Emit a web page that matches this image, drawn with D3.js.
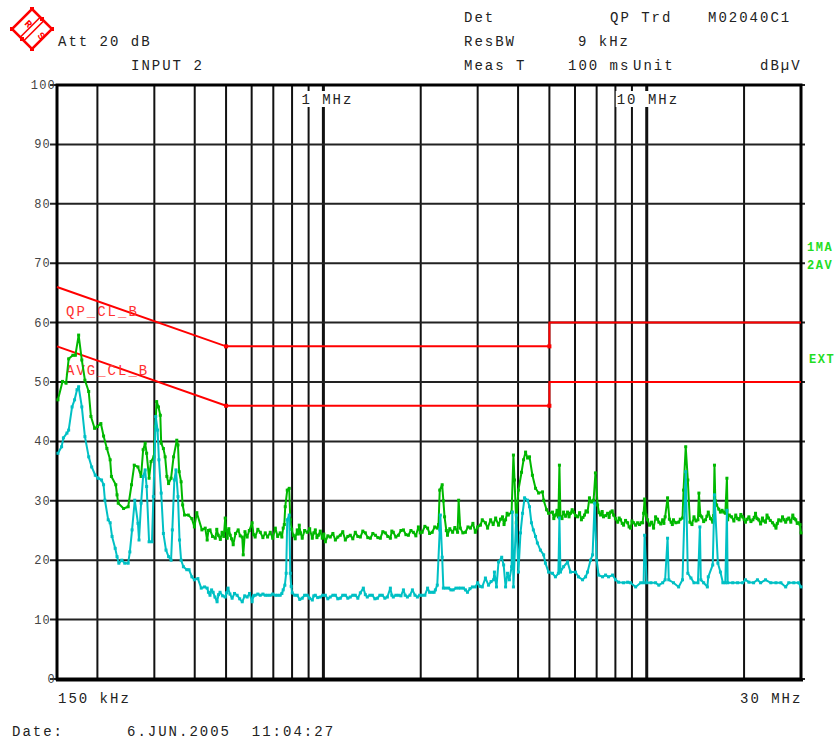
<!DOCTYPE html>
<html><head><meta charset="utf-8">
<script src="https://cdn.jsdelivr.net/npm/d3@7/dist/d3.min.js"></script>
<style>
body{margin:0;background:#fff}
svg{display:block}
text{font-family:"Liberation Mono","DejaVu Sans Mono",monospace}
</style>
</head><body>
<svg id="chart" width="836" height="740"></svg>
<script>
// ---- DATA ----
// Quasi-peak trace (green): [frequency MHz, level dBµV]
const qpTrace = [
[0.151,47.0],[0.156,50.1],[0.160,49.8],[0.163,53.9],[0.168,54.5],[0.171,54.5],[0.175,57.9],[0.179,53.7],[0.183,50.3],[0.188,48.4],
[0.191,44.2],[0.196,42.2],[0.200,42.5],[0.205,43.0],[0.209,40.9],[0.214,38.8],[0.219,36.9],[0.221,34.1],[0.228,32.7],[0.230,31.0],
[0.232,29.6],[0.241,28.7],[0.249,29.0],[0.255,32.7],[0.260,36.0],[0.267,35.7],[0.273,34.1],[0.277,38.6],[0.281,39.7],[0.284,38.0],
[0.289,33.8],[0.293,36.6],[0.299,37.4],[0.302,42.5],[0.305,46.7],[0.309,45.8],[0.313,44.4],[0.315,39.7],[0.320,38.8],[0.324,37.4],
[0.328,34.1],[0.332,32.9],[0.338,33.8],[0.344,37.4],[0.352,40.2],[0.355,39.4],[0.358,34.9],[0.363,33.2],[0.367,29.3],[0.372,27.6],
[0.382,27.6],[0.392,27.0],[0.399,25.6],[0.406,28.0],[0.421,25.1],[0.431,25.4],
[0.437,23.4],[0.441,25.0],[0.446,25.1],[0.454,24.0],[0.463,23.7],[0.468,25.2],[0.473,24.2],[0.480,23.5],[0.486,24.7],[0.492,24.0],
[0.497,27.1],[0.501,25.0],[0.504,23.7],[0.510,25.3],[0.515,24.2],[0.520,23.6],[0.526,22.6],[0.535,24.5],[0.545,25.1],[0.553,24.1],
[0.561,23.9],[0.565,20.9],[0.572,24.8],[0.581,23.9],[0.590,25.0],[0.602,26.3],[0.608,24.3],[0.615,23.9],[0.627,25.2],[0.638,24.7],
[0.650,23.8],[0.661,24.6],[0.672,23.9],[0.685,24.7],[0.697,23.7],[0.710,25.4],[0.722,24.0],[0.735,24.6],[0.744,23.9],[0.751,25.4],
[0.757,26.0],[0.762,29.0],[0.773,31.8],[0.784,32.1],[0.790,26.8],[0.798,25.2],[0.807,24.2],[0.818,23.6],[0.830,25.1],[0.836,24.4],
[0.842,25.9],[0.850,24.6],[0.860,23.7],[0.875,25.0],[0.891,24.7],[0.907,25.3],[0.924,23.7],[0.934,24.6],[0.944,25.1],[0.955,23.8],
[0.965,24.2],[0.978,24.9],[0.992,23.7],[1.003,24.4],[1.014,23.1],[1.032,24.1],[1.050,23.9],[1.070,24.5],[1.089,23.4],[1.108,23.9],
[1.128,24.2],[1.148,24.8],[1.169,23.4],[1.190,24.0],[1.211,24.2],[1.233,23.6],[1.255,24.7],[1.278,24.0],[1.301,23.9],[1.324,24.9],
[1.348,24.6],[1.372,23.8],[1.397,23.7],[1.422,24.5],[1.448,24.2],[1.474,23.8],[1.500,23.7],[1.527,24.8],[1.554,24.6],[1.582,24.0],
[1.611,23.7],[1.628,24.9],[1.645,24.7],[1.675,23.9],[1.706,24.2],[1.737,25.0],[1.768,25.1],[1.800,24.3],[1.832,24.2],[1.865,25.0],
[1.898,24.7],[1.932,24.1],[1.967,25.6],[1.993,24.6],[2.02,24.7],[2.06,25.7],[2.10,25.4],[2.13,24.5],[2.17,24.7],[2.21,25.6],
[2.25,25.4],[2.27,26.0],[2.29,31.8],[2.33,32.7],[2.35,30.0],[2.37,27.3],[2.40,25.0],[2.42,24.2],[2.46,25.3],[2.51,24.7],
[2.55,25.5],[2.60,24.7],[2.62,30.1],[2.65,25.4],[2.70,24.6],[2.75,24.7],[2.80,25.6],[2.85,25.4],[2.90,26.2],[2.95,24.7],
[3.00,25.6],[3.06,25.9],[3.10,26.8],[3.17,26.3],[3.22,25.4],[3.29,26.8],[3.35,26.0],[3.41,27.1],[3.48,25.9],[3.53,26.9],
[3.58,27.3],[3.62,26.0],[3.66,26.8],[3.70,27.9],[3.73,27.6],[3.82,28.1],[3.87,37.7],[3.90,33.5],[3.95,26.3],[4.01,31.8],
[4.10,34.8],[4.16,36.9],[4.22,38.2],[4.28,37.2],[4.34,37.4],[4.43,34.3],[4.53,32.1],[4.63,31.3],[4.76,31.5],[4.80,30.1],
[4.90,28.5],[4.97,27.9],[5.11,28.1],[5.16,27.0],[5.22,27.6],[5.28,28.4],[5.33,27.3],[5.37,36.0],[5.41,27.3],[5.47,27.0],
[5.53,28.1],[5.61,27.4],[5.69,28.1],[5.75,27.3],[5.81,27.9],[5.88,28.5],[5.94,28.1],[6.02,27.5],[6.11,27.3],[6.20,28.0],
[6.28,26.8],[6.35,27.2],[6.42,27.6],[6.49,28.3],[6.56,28.1],[6.65,30.5],[6.75,29.8],[6.85,30.1],[6.94,34.7],[7.05,29.3],
[7.12,28.0],[7.20,27.6],[7.28,28.2],[7.35,27.3],[7.46,27.5],[7.57,27.9],[7.65,27.2],[7.73,28.1],[7.82,28.3],[7.90,27.6],
[8.00,27.0],[8.13,26.4],[8.22,27.1],[8.30,26.8],[8.40,26.2],[8.48,25.9],[8.60,26.7],[8.73,26.3],[8.82,25.6],[8.91,25.4],
[9.00,26.6],[9.11,26.3],[9.24,25.9],[9.37,26.3],[9.50,26.0],[9.60,26.3],[9.71,26.3],[9.78,27.9],[9.85,30.3],[9.95,27.6],
[10.06,26.8],[10.2,25.9],[10.35,26.4],[10.5,25.4],[10.65,27.3],[10.8,26.9],[10.9,26.4],[11.05,26.1],[11.2,26.8],[11.3,26.2],
[11.4,27.3],[11.6,30.5],[11.75,26.9],[11.9,26.4],[12.0,26.0],[12.1,26.8],[12.3,26.3],[12.55,26.4],[12.7,26.9],[12.9,27.1],
[13.0,31.8],[13.2,39.1],[13.4,33.5],[13.6,26.4],[13.8,26.0],[14.0,27.3],[14.2,26.6],[14.4,26.8],[14.5,31.3],[14.65,27.5],
[14.8,27.3],[15.0,26.5],[15.2,26.8],[15.35,27.4],[15.5,28.1],[15.75,27.0],[16.0,26.4],[16.1,27.5],[16.2,36.0],[16.3,30.0],
[16.45,29.3],[16.7,28.6],[16.9,28.1],[17.1,28.4],[17.3,28.1],[17.5,27.9],[17.7,33.8],[17.8,26.8],[18.0,27.6],[18.3,27.3],
[18.6,26.6],[18.85,27.6],[19.1,27.0],[19.3,26.8],[19.55,27.7],[19.8,27.3],[20.0,26.9],[20.2,26.4],[20.45,26.9],[20.7,27.3],
[21.0,26.5],[21.3,26.8],[21.5,27.2],[21.7,27.9],[21.95,27.0],[22.2,26.8],[22.5,26.1],[22.8,27.1],[23.0,26.6],[23.3,26.4],
[23.55,27.6],[23.8,27.1],[24.1,26.7],[24.5,26.3],[24.8,25.9],[25.1,25.4],[25.35,26.2],[25.6,26.8],[26.0,26.6],[26.3,27.3],
[26.6,26.8],[26.9,26.4],[27.2,26.9],[27.5,27.1],[27.9,26.4],[28.3,27.6],[28.6,27.0],[28.9,26.8],[29.2,26.2],[29.5,26.3],
[29.8,26.0],[30.0,24.6]
];
// Average trace (cyan): [frequency MHz, level dBµV]
const avTrace = [
[0.151,38.0],[0.155,39.1],[0.157,40.6],[0.161,41.4],[0.163,41.9],[0.167,45.8],[0.170,47.0],[0.173,48.7],[0.175,49.2],[0.179,45.8],
[0.183,40.8],[0.188,37.4],[0.192,35.7],[0.197,34.3],[0.201,33.8],[0.206,33.5],[0.209,32.7],[0.211,30.1],[0.216,26.8],[0.219,26.3],
[0.222,24.0],[0.227,22.0],[0.230,20.6],[0.233,19.5],[0.238,20.0],[0.243,19.5],[0.249,19.5],[0.252,21.4],[0.256,25.1],[0.261,30.1],
[0.267,26.2],[0.269,23.4],[0.273,29.6],[0.277,34.1],[0.281,35.2],[0.284,32.4],[0.289,23.1],[0.295,23.1],[0.298,30.7],[0.303,44.2],
[0.307,41.9],[0.310,36.9],[0.315,31.3],[0.320,24.5],[0.326,21.7],[0.332,20.6],[0.338,20.0],[0.341,25.1],[0.346,33.5],[0.350,35.2],
[0.355,30.7],[0.359,23.4],[0.363,20.0],[0.369,18.9],[0.378,18.4],[0.384,18.4],[0.392,17.2],[0.399,16.7],[0.409,16.9],[0.419,15.3],
[0.429,15.5],
[0.437,15.3],[0.441,14.6],[0.446,14.1],[0.451,15.0],[0.456,14.6],[0.462,13.8],[0.469,13.0],[0.474,14.2],[0.479,14.6],[0.488,14.0],
[0.497,13.8],[0.502,14.5],[0.507,15.3],[0.514,14.3],[0.522,13.6],[0.531,14.4],[0.541,14.1],[0.551,13.5],[0.561,13.0],[0.571,14.0],
[0.581,13.8],[0.591,14.4],[0.602,13.0],[0.608,14.0],[0.615,14.1],[0.627,14.3],[0.638,14.1],[0.650,14.3],[0.661,14.1],[0.672,14.1],
[0.685,14.1],[0.697,14.3],[0.710,14.1],[0.722,14.1],[0.735,14.1],[0.744,14.4],[0.751,15.0],[0.760,15.8],[0.767,17.8],[0.773,26.8],
[0.784,27.6],[0.790,17.8],[0.795,15.6],[0.801,14.5],[0.815,14.1],[0.830,14.1],[0.845,13.4],[0.860,13.6],[0.875,14.1],[0.891,14.1],
[0.907,13.6],[0.924,13.3],[0.934,14.0],[0.944,14.1],[0.960,13.7],[0.978,13.8],[0.995,14.1],[1.014,14.1],[1.032,13.5],[1.050,13.8],
[1.070,14.1],[1.089,14.1],[1.108,13.5],[1.128,13.6],[1.148,14.1],[1.169,14.1],[1.190,13.6],[1.211,13.8],[1.233,14.1],[1.255,14.1],
[1.278,13.6],[1.301,14.5],[1.329,15.3],[1.348,14.2],[1.367,13.8],[1.392,14.1],[1.417,14.1],[1.443,13.5],[1.469,13.6],[1.495,14.1],
[1.521,14.1],[1.549,13.6],[1.577,13.8],[1.611,15.3],[1.628,14.1],[1.645,13.8],[1.675,14.1],[1.706,14.1],[1.737,14.0],[1.768,15.0],
[1.790,14.1],[1.819,13.8],[1.852,14.1],[1.885,15.0],[1.920,14.1],[1.953,13.8],[1.985,14.1],[2.02,14.1],[2.06,14.1],[2.10,15.3],
[2.13,14.6],[2.17,14.6],[2.20,14.6],[2.22,15.0],[2.25,15.8],[2.29,25.1],[2.30,27.6],[2.33,20.5],[2.35,15.3],[2.39,15.3],
[2.44,15.3],[2.48,15.0],[2.52,15.0],[2.57,15.3],[2.62,15.3],[2.66,15.3],[2.71,15.3],[2.75,15.0],[2.79,14.6],[2.84,15.2],
[2.89,15.5],[2.95,15.5],[3.00,16.2],[3.05,15.6],[3.10,15.5],[3.17,17.0],[3.24,15.8],[3.30,16.4],[3.36,16.7],
[3.38,18.0],[3.43,15.5],[3.48,19.7],[3.56,20.5],[3.61,19.2],[3.66,15.5],[3.71,17.8],[3.76,16.7],[3.82,18.9],[3.84,28.1],
[3.87,15.5],[3.95,27.6],[4.01,18.0],[4.07,24.6],[4.13,27.9],[4.19,30.5],[4.28,30.1],[4.34,29.0],[4.40,26.3],[4.46,25.1],
[4.53,24.0],[4.59,22.9],[4.69,21.7],[4.80,20.9],[4.86,19.5],[4.97,18.0],[5.11,17.8],[5.22,17.2],[5.33,17.8],[5.37,27.1],
[5.41,18.0],[5.53,18.9],[5.69,19.7],[5.81,18.0],[6.02,18.0],[6.15,17.2],[6.33,16.7],[6.47,17.2],[6.56,18.0],[6.70,20.0],
[6.80,20.9],[6.90,29.6],[7.00,20.0],[7.10,17.5],[7.30,17.2],[7.46,17.5],[7.62,17.2],[7.84,17.5],[8.01,16.7],[8.18,16.3],
[8.48,16.2],[8.73,16.3],[8.91,16.2],[9.24,15.5],[9.58,16.2],[9.78,16.2],[9.85,24.2],[10.0,16.2],[10.3,16.2],[10.65,16.2],
[10.9,15.8],[11.2,16.2],[11.4,16.7],[11.6,23.7],[11.7,16.7],[12.1,16.2],[12.55,15.5],[12.9,16.7],[13.2,34.9],[13.4,17.8],
[13.7,17.0],[14.0,16.2],[14.4,16.2],[14.6,25.6],[14.7,16.7],[15.0,16.2],[15.4,15.5],[15.5,17.2],[16.0,19.2],[16.2,31.0],
[16.6,19.5],[16.9,18.0],[17.2,16.2],[17.5,16.2],[17.7,28.4],[17.8,16.2],[18.45,16.2],[19.1,16.2],[19.8,16.2],[20.2,16.7],
[20.7,16.3],[21.4,16.2],[22.0,16.7],[22.5,16.2],[23.3,16.7],[24.2,16.2],[25.1,16.2],[26.0,16.2],[26.9,15.5],[27.5,16.2],
[28.5,16.2],[29.5,16.2],[30.0,15.5]
];
// Limit lines
const qpLimit  = [[0.15,66],[0.5,56],[5,56],[5,60],[30,60]];
const avgLimit = [[0.15,56],[0.5,46],[5,46],[5,50],[30,50]];
const qpLimitName = "QP_CL_B", avgLimitName = "AVG_CL_B";
// Axes
const freqRange = [0.15, 30];
const levelRange = [0, 100];
const yTicks = [0,10,20,30,40,50,60,70,80,90,100];
const xGrid = [0.2,0.3,0.4,0.5,0.6,0.7,0.8,0.9,1,2,3,4,5,6,7,8,9,10,20];
const xMajor = [1,10];
const xMajorLabels = ["1 MHz","10 MHz"];
const xMajorLabelOffset = [-22, -30];
const xEndLabels = ["150 kHz","30 MHz"];
// Header text
const header = [
  {t:"Att 20 dB",x:58,y:46},{t:"INPUT 2",x:131,y:70},
  {t:"Det",x:464,y:22},{t:"QP Trd",x:610,y:22},{t:"M02040C1",x:708,y:22},
  {t:"ResBW",x:464,y:46},{t:"9 kHz",x:578,y:46},
  {t:"Meas T",x:464,y:70},{t:"100 ms",x:568,y:70},{t:"Unit",x:633,y:70},{t:"dBµV",x:760,y:70}
];
const sideLabels = [{t:"1MA",x:807,y:251},{t:"2AV",x:807,y:269},{t:"EXT",x:809,y:363}];
const dateLabel = "Date:", dateValue = "6.JUN.2005  11:04:27";

// ---- DRAW ----
const svg = d3.select("#chart");
const L = 57, R = 801, T = 85, B = 679;
const x = d3.scaleLog().domain(freqRange).range([L, R]);
const y = d3.scaleLinear().domain(levelRange).range([B, T]);

// vertical grid
svg.append("g").selectAll("line").data(xGrid).join("line")
  .attr("x1", d => x(d)).attr("x2", d => x(d))
  .attr("y1", T).attr("y2", B)
  .attr("stroke", "#111")
  .attr("stroke-width", d => xMajor.includes(d) ? 3 : 2);

// horizontal grid
svg.append("g").selectAll("line").data(yTicks).join("line")
  .attr("x1", L - 7).attr("x2", R + 4)
  .attr("y1", d => y(d)).attr("y2", d => y(d))
  .attr("stroke", "#222").attr("stroke-width", 2);

// border
svg.append("rect").attr("x", L).attr("y", T).attr("width", R - L).attr("height", B - T)
  .attr("fill", "none").attr("stroke", "#000").attr("stroke-width", 3);
svg.append("line").attr("x1", L - 1).attr("x2", R + 2).attr("y1", B + 1).attr("y2", B + 1)
  .attr("stroke", "#000").attr("stroke-width", 3);

// y labels
svg.append("g").selectAll("text").data(yTicks).join("text")
  .attr("x", d => (d === 100 || d === 0) ? 56 : 51)
  .attr("y", d => y(d) + 4)
  .attr("text-anchor", "end")
  .attr("font-size", 12).attr("letter-spacing", 1.2)
  .attr("fill", "#444").text(d => d);

// MHz labels with white backgrounds
xMajor.forEach((f, i) => {
  const lx = x(f) + xMajorLabelOffset[i];
  svg.append("rect").attr("x", lx - 1).attr("y", 91).attr("width", xMajorLabels[i].length * 10.4).attr("height", 16).attr("fill", "#fff");
  svg.append("text").attr("x", lx).attr("y", 104).attr("font-size", 14).attr("letter-spacing", 2)
    .attr("fill", "#222").text(xMajorLabels[i]);
});

// limit lines
const line = d3.line().x(d => x(d[0])).y(d => y(d[1]));
[qpLimit, avgLimit].forEach(lim => {
  svg.append("path").attr("d", line(lim)).attr("fill", "none").attr("stroke", "#ff0000").attr("stroke-width", 2);
  svg.append("g").selectAll("rect").data(lim.slice(1, 3)).join("rect")
    .attr("x", d => x(d[0]) - 2).attr("y", d => y(d[1]) - 2).attr("width", 4).attr("height", 4).attr("fill", "#ff0000");
});
svg.append("text").attr("x", 66).attr("y", 316).attr("font-size", 14).attr("letter-spacing", 2)
  .attr("fill", "#ff3030").text(qpLimitName);
svg.append("text").attr("x", 66).attr("y", 375).attr("font-size", 14).attr("letter-spacing", 2)
  .attr("fill", "#ff3030").text(avgLimitName);

// traces
function drawTrace(data, color) {
  svg.append("path").attr("d", line(data)).attr("fill", "none")
    .attr("stroke", color).attr("stroke-width", 2).attr("stroke-linejoin", "round");
  svg.append("g").selectAll("rect").data(data).join("rect")
    .attr("x", d => x(d[0]) - 1.5).attr("y", d => y(d[1]) - 1.5)
    .attr("width", 3).attr("height", 3).attr("fill", color);
}
drawTrace(qpTrace, "#00b800");
drawTrace(avTrace, "#00c0c4");

// header
svg.append("g").selectAll("text").data(header).join("text")
  .attr("x", d => d.x).attr("y", d => d.y)
  .attr("font-size", 14).attr("letter-spacing", 2).attr("fill", "#222").text(d => d.t);

// side labels
svg.append("g").selectAll("text").data(sideLabels).join("text")
  .attr("x", d => d.x).attr("y", d => d.y)
  .attr("font-size", 12).attr("font-weight", "bold").attr("letter-spacing", 1.5)
  .attr("fill", "#22dd22").text(d => d.t);

// bottom labels
svg.append("text").attr("x", 58).attr("y", 703).attr("font-size", 14).attr("letter-spacing", 2).attr("fill", "#222").text(xEndLabels[0]);
svg.append("text").attr("x", 740).attr("y", 703).attr("font-size", 14).attr("letter-spacing", 2).attr("fill", "#222").text(xEndLabels[1]);
svg.append("text").attr("x", 12).attr("y", 736).attr("font-size", 14).attr("letter-spacing", 2).attr("fill", "#222").text(dateLabel);
svg.append("text").attr("x", 127).attr("y", 736).attr("font-size", 14).attr("letter-spacing", 2).attr("fill", "#222").style("white-space","pre").text(dateValue);

// R&S logo
const logo = svg.append("g").attr("transform", "translate(32,29)");
logo.append("path").attr("d", "M0,-20 L20,0 L0,20 L-20,0 Z").attr("fill", "none")
  .attr("stroke", "#ff0000").attr("stroke-width", 2.5);
[[0,-20],[20,0],[0,20],[-20,0],[10,-10],[-10,10]].forEach(p => {
  logo.append("rect").attr("x", p[0] - 2).attr("y", p[1] - 2).attr("width", 4).attr("height", 4).attr("fill", "#ff0000");
});
[-1.8, 1.8].forEach(o => {
  logo.append("line").attr("x1", 10 + o).attr("y1", -10 + o).attr("x2", -10 + o).attr("y2", 10 + o)
    .attr("stroke", "#ff0000").attr("stroke-width", 1.6);
});
logo.append("text").attr("transform", "translate(-6,-3) rotate(45)").attr("text-anchor", "middle")
  .attr("font-size", 10).attr("font-weight", "bold").attr("fill", "#ff0000").attr("font-family", "DejaVu Sans").text("R");
logo.append("text").attr("transform", "translate(7,9) rotate(45)").attr("text-anchor", "middle")
  .attr("font-size", 10).attr("font-weight", "bold").attr("fill", "#ff0000").attr("font-family", "DejaVu Sans").text("S");
</script>
</body></html>
